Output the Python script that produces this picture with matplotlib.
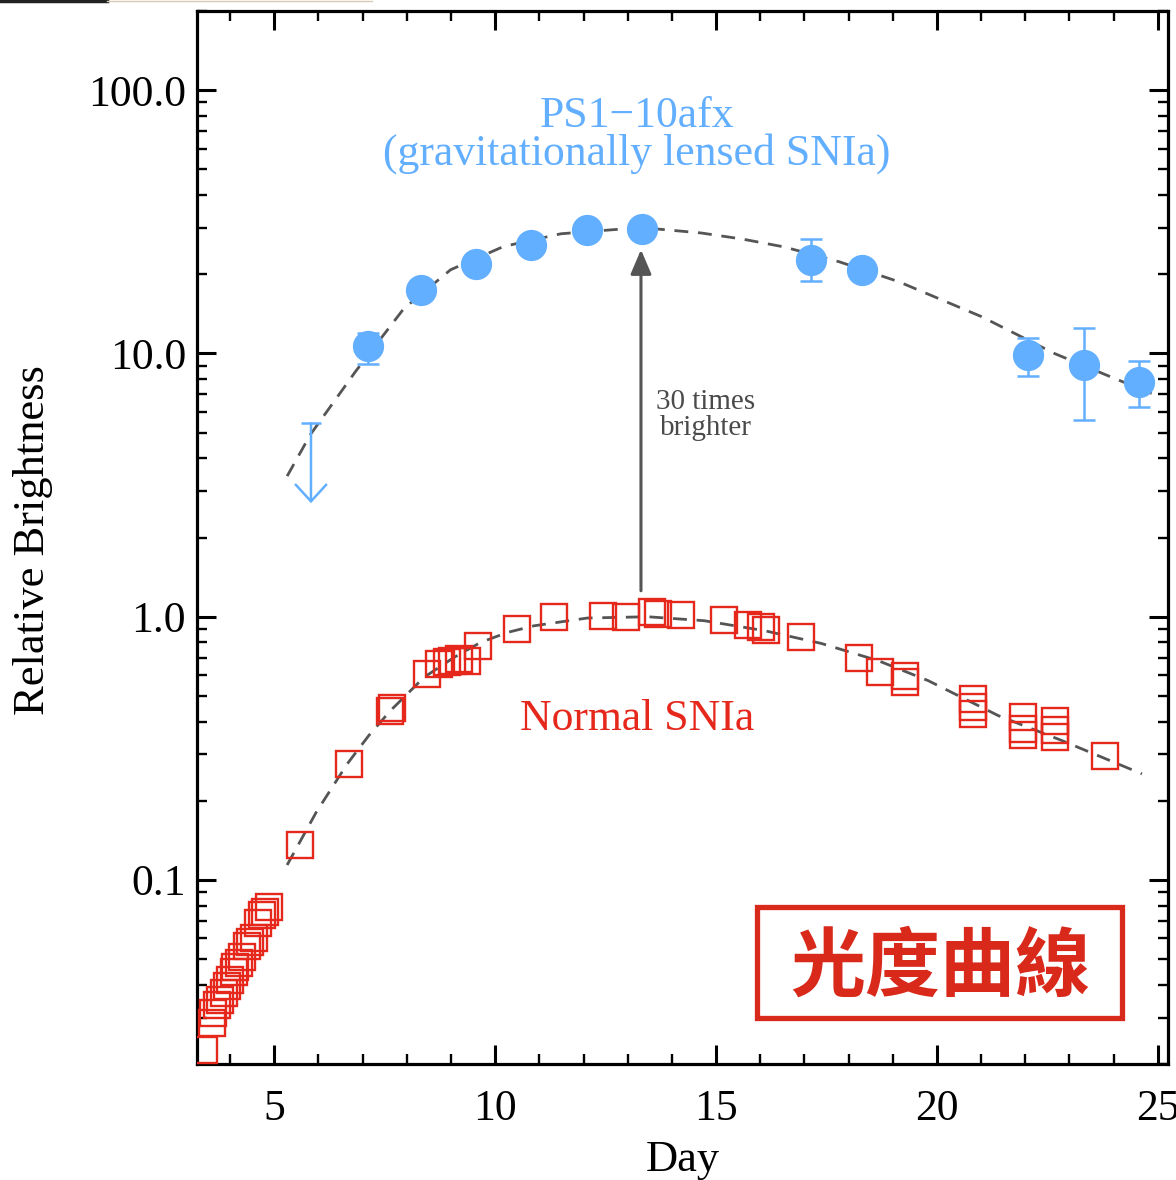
import numpy as np
import matplotlib
matplotlib.use('Agg')
import matplotlib.pyplot as plt
from matplotlib.lines import Line2D
from matplotlib.patches import Rectangle
from matplotlib.ticker import MultipleLocator, LogLocator, NullFormatter

# lensed SN (PS1-10afx) photometry
lensed_day = [7.11, 8.31, 9.56, 10.80, 12.07, 13.32, 17.15, 18.31, 22.05, 23.32, 24.57]
lensed_flux = [10.7, 17.5, 21.9, 25.9, 29.5, 29.8, 22.7, 20.7, 9.83, 9.08, 7.77]
lensed_hi = [12.0, 17.5, 21.9, 25.9, 29.5, 29.8, 27.3, 20.7, 11.5, 12.5, 9.33]
lensed_lo = [9.1, 17.5, 21.9, 25.9, 29.5, 29.8, 18.9, 20.7, 8.18, 5.57, 6.24]

# upper limit (day, top, arrow tip)
ulim_day = 5.83
ulim_top = 5.43
ulim_tip = 2.70

# template curve (lensed)
lensed_curve_day = [5.29, 5.82, 6.84, 7.93, 8.99, 10.19, 11.49, 13.3, 14.66, 15.6,
                    16.54, 17.79, 19.13, 21.01, 22.66, 24.02, 24.86]
lensed_curve_flux = [3.42, 4.93, 8.55, 14.8, 20.8, 25.5, 28.5, 30.1, 28.7, 27.2,
                     25.4, 22.3, 18.75, 13.8, 10.0, 8.04, 7.05]

# normal SNIa photometry
normal_day = [3.40, 3.59, 3.62, 3.70, 3.78, 3.85, 3.93, 4.00, 4.08, 4.12, 4.19, 4.27,
              4.38, 4.46, 4.53, 4.64, 4.72, 4.80, 4.87,
              5.59, 6.70, 7.63, 7.66, 8.46, 8.73, 8.92, 9.03, 9.18, 9.37, 9.60, 10.49,
              11.33, 12.43, 12.96, 13.56, 13.68, 14.21, 15.17, 15.72, 16.02, 16.13, 16.93,
              18.23, 18.70, 19.27, 19.27, 20.82, 20.82, 20.82,
              21.95, 21.95, 21.95, 22.67, 22.67, 22.67, 23.80]
normal_flux = [0.0227, 0.0286, 0.0312, 0.0336, 0.0351, 0.0372, 0.0394, 0.0418, 0.0449,
               0.0469, 0.0483, 0.0512, 0.0559, 0.0583, 0.0601, 0.0685, 0.0737, 0.0758, 0.0792,
               0.136, 0.277, 0.440, 0.450, 0.606, 0.662, 0.671, 0.681, 0.691, 0.681, 0.776, 0.898,
               0.994, 1.009, 1.000, 1.038, 1.024, 1.018, 0.972, 0.933, 0.911, 0.890, 0.835,
               0.697, 0.615, 0.597, 0.563, 0.487, 0.453, 0.428,
               0.415, 0.375, 0.354, 0.403, 0.370, 0.348, 0.297]

# template curve (normal)
normal_curve_day = [5.29, 5.95, 6.65, 7.14, 7.63, 8.39, 9.07, 9.67, 10.28, 10.88, 12.09,
                    13.45, 14.73, 16.10, 17.38, 18.67, 19.80, 21.39, 22.82, 24.64]
normal_curve_flux = [0.114, 0.181, 0.276, 0.354, 0.440, 0.589, 0.701, 0.799, 0.872, 0.924,
                     0.989, 1.0, 0.966, 0.885, 0.792, 0.681, 0.572, 0.421, 0.339, 0.253]

# "30 times brighter" arrow
arrow_day = 13.3
arrow_from = 1.255
arrow_to = 24.8

yticks = [0.1, 1, 10, 100]
ytick_labels = ['0.1', '1.0', '10.0', '100.0']
xticks = [5, 10, 15, 20, 25]

blue = '#62AEFF'
red = '#E5271C'
boxred = '#D8291B'
gray = '#555555'

plt.rcParams['font.family'] = ['Liberation Serif', 'Noto Sans CJK TC']

fig = plt.figure(figsize=(11.76, 11.8), dpi=100)
ax = fig.add_axes([197 / 1176, 116 / 1180, 971 / 1176, 1053 / 1180])
ax.set_yscale('log')
ax.set_xlim(3.25, 25.23)
ax.set_ylim(0.02, 200)

# dashed template curves
ax.plot(lensed_curve_day, lensed_curve_flux, color=gray, lw=2, ls=(0, (5, 3.5)), zorder=2)
ax.plot(normal_curve_day, normal_curve_flux, color=gray, lw=2, ls=(0, (5, 3.5)), zorder=2)

# normal SNIa squares
ax.plot(normal_day, normal_flux, ls='none', marker='s', ms=19, mfc='none',
        mec=red, mew=1.7, zorder=3)

# lensed SN points with error bars
yerr = [np.array(lensed_flux) - np.array(lensed_lo), np.array(lensed_hi) - np.array(lensed_flux)]
ax.errorbar(lensed_day, lensed_flux, yerr=yerr, fmt='o', ms=21.5, color=blue,
            mec=blue, ecolor=blue, elinewidth=1.8, capsize=8, capthick=1.8, zorder=4)

# upper limit
ax.annotate('', xy=(ulim_day, ulim_tip), xytext=(ulim_day, ulim_top),
            arrowprops=dict(arrowstyle='->,head_length=0.6,head_width=0.55', color=blue,
                            lw=1.8, shrinkA=0, shrinkB=0, mutation_scale=20), zorder=4)
ax.plot([ulim_day], [ulim_top], marker='_', ms=15, mew=1.8, color=blue, zorder=4)

# 30x arrow
ax.annotate('', xy=(arrow_day, arrow_to), xytext=(arrow_day, arrow_from),
            arrowprops=dict(arrowstyle='-|>,head_length=0.75,head_width=0.32', color=gray,
                            lw=2.2, shrinkA=0, shrinkB=0, mutation_scale=20), zorder=3)

# texts
ax.text(0.453, 0.900, 'PS1\u221210afx', transform=ax.transAxes, ha='center', va='center',
        fontsize=31.5, color=blue)
ax.text(0.453, 0.865, '(gravitationally lensed SNIa)', transform=ax.transAxes, ha='center',
        va='center', fontsize=31.5, color=blue)
ax.text(0.453, 0.3275, 'Normal SNIa', transform=ax.transAxes, ha='center', va='center',
        fontsize=31.5, color=red)
ax.text(0.524, 0.6287, '30 times', transform=ax.transAxes, ha='center', va='center',
        fontsize=21, color='#4a4a4a')
ax.text(0.524, 0.604, 'brighter', transform=ax.transAxes, ha='center', va='center',
        fontsize=21, color='#4a4a4a')

# chinese label box
ax.add_patch(Rectangle((0.5767, 0.0437), 0.9526 - 0.5767, 0.149 - 0.0437,
                       transform=ax.transAxes, fill=True, facecolor='white',
                       edgecolor=boxred, lw=3.8, zorder=5))
ax.text(0.765, 0.0915, '光度曲線', transform=ax.transAxes, ha='center', va='center',
        fontsize=54, fontweight='bold', color=boxred, family='Noto Sans CJK TC', zorder=6)

# axes styling
ax.set_yticks(yticks)
ax.set_yticklabels(ytick_labels)
ax.yaxis.set_minor_locator(LogLocator(base=10, subs=np.arange(2, 10)))
ax.yaxis.set_minor_formatter(NullFormatter())
ax.set_xticks(xticks)
ax.xaxis.set_minor_locator(MultipleLocator(1))
ax.tick_params(which='both', direction='in', top=True, right=True, labelsize=31.5)
ax.tick_params(which='major', length=14, width=2.2)
ax.tick_params(which='minor', length=7, width=1.7)
ax.tick_params(axis='x', which='major', pad=18)
ax.tick_params(axis='y', which='major', pad=8)
for s in ax.spines.values():
    s.set_linewidth(2.3)

ax.set_xlabel('Day', fontsize=32)
ax.set_ylabel('Relative Brightness', fontsize=32)
ax.xaxis.set_label_coords(0.5, -0.072)
ax.yaxis.set_label_coords(-0.148, 0.4976)

# screenshot remnants at top-left
fig.add_artist(Line2D([0, 107 / 1176], [0.999, 0.999], color='#222222', lw=2.5,
                      transform=fig.transFigure))
fig.add_artist(Line2D([107 / 1176, 372 / 1176], [0.9992, 0.9992], color='#d9cbb6', lw=1,
                      transform=fig.transFigure))

fig.savefig('out.png', dpi=100)
